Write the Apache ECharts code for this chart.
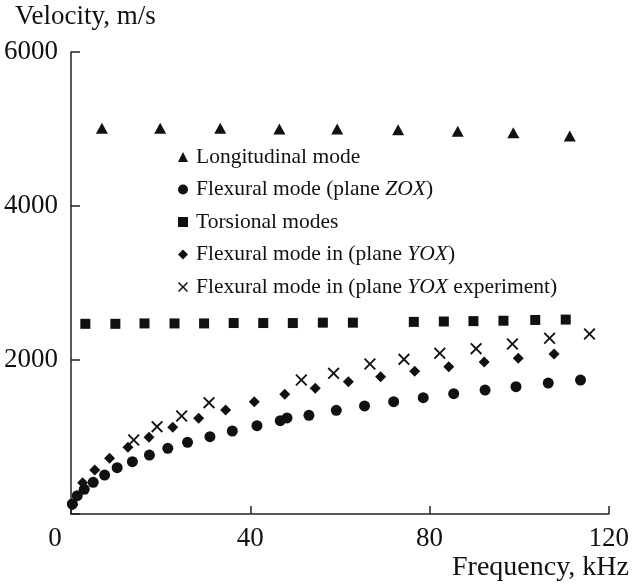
<!DOCTYPE html>
<html>
<head>
<meta charset="utf-8">
<script src="https://cdn.jsdelivr.net/npm/echarts@6/dist/echarts.min.js"></script>
<style>html,body{margin:0;padding:0;background:#fff}#c{width:632px;height:585px}</style>
</head>
<body>
<div id="c"></div>
<script>
// Tick labels
const xTicks = [0, 40, 80, 120];
const yTicks = [2000, 4000, 6000];

// Longitudinal mode (triangles)
const longFreq = [6.9, 19.9, 33.3, 46.5, 59.4, 73.0, 86.3, 98.7, 111.3];
const longVel  = [5010, 5010, 5010, 5000, 5000, 4990, 4970, 4950, 4910];

// Flexural mode (plane ZOX) (circles)
const flexZFreq = [0.3, 1.4, 2.95, 4.95, 7.5, 10.3, 13.7, 17.5, 21.6, 26.0, 31.0, 36.0, 41.5, 46.7, 48.2, 53.1, 59.2, 65.5, 72.0, 78.6, 85.4, 92.4, 99.3, 106.5, 113.7];
const flexZVel  = [130, 238, 320, 411, 506, 602, 680, 766, 853, 931, 1004, 1078, 1147, 1212, 1247, 1282, 1347, 1403, 1459, 1511, 1563, 1610, 1654, 1701, 1740];

// Torsional modes (squares)
const torsFreq = [3.2, 9.9, 16.4, 23.1, 29.7, 36.3, 42.9, 49.5, 56.2, 62.9, 76.5, 83.2, 89.8, 96.5, 103.6, 110.4];
const torsVel  = [2470, 2470, 2475, 2475, 2475, 2480, 2480, 2480, 2485, 2485, 2495, 2500, 2505, 2510, 2520, 2525];

// Flexural mode in (plane YOX) (diamonds)
const flexYFreq = [0.4, 2.6, 5.3, 8.6, 12.7, 17.4, 22.7, 28.5, 34.5, 40.9, 47.7, 54.5, 61.9, 69.1, 76.7, 84.3, 92.2, 99.8, 107.8];
const flexYVel  = [120, 407, 571, 723, 866, 996, 1126, 1243, 1351, 1459, 1554, 1632, 1718, 1783, 1853, 1913, 1974, 2022, 2078];

// Flexural mode in (plane YOX experiment) (crosses)
const expFreq = [14.0, 19.2, 24.7, 30.8, 51.4, 58.6, 66.7, 74.3, 82.3, 90.4, 98.5, 106.8, 115.7];
const expVel  = [961, 1134, 1273, 1446, 1740, 1827, 1948, 2009, 2087, 2147, 2208, 2282, 2338];

const names = [
  'Longitudinal mode',
  'Flexural mode (plane ZOX)',
  'Torsional modes',
  'Flexural mode in (plane YOX)',
  'Flexural mode in (plane YOX experiment)'
];

const FONT = '"Liberation Serif", "Times New Roman", serif';
const INK = '#111';
const crossPath = 'path://M0,1.1 L1.1,0 L5,3.9 L8.9,0 L10,1.1 L6.1,5 L10,8.9 L8.9,10 L5,6.1 L1.1,10 L0,8.9 L3.9,5 Z';

function zip(a, b) { return a.map((v, i) => [v, b[i]]); }

const chart = echarts.init(document.getElementById('c'), null, { renderer: 'canvas' });

function legendFmt(name) {
  const m = name.match(/^(.*plane )(YOX|ZOX)(.*)$/);
  if (m) {
    return '{n|' + m[1] + '}{i|' + m[2] + '}{n|' + m[3] + '}';
  }
  return '{n|' + name + '}';
}

const ms = { color: INK, opacity: 1 };

chart.setOption({
  animation: false,
  backgroundColor: '#fff',
  title: [
    { text: 'Velocity, m/s', left: 10, top: -2,
      textStyle: { fontFamily: FONT, fontSize: 27, fontWeight: 'normal', color: INK } },
    { text: 'Frequency, kHz', right: -2, top: 549,
      textStyle: { fontFamily: FONT, fontSize: 28, fontWeight: 'normal', color: INK } }
  ],
  grid: { left: 71, right: 20, top: 52, bottom: 71, containLabel: false },
  legend: {
    orient: 'vertical',
    left: 173,
    top: 141,
    itemWidth: 10,
    itemHeight: 10,
    itemGap: 10.5,
    data: names,
    formatter: legendFmt,
    textStyle: {
      fontFamily: FONT, fontSize: 21.5, color: INK,
      rich: {
        n: { fontFamily: FONT, fontSize: 21.5, color: INK, lineHeight: 22 },
        i: { fontFamily: FONT, fontSize: 21.5, color: INK, fontStyle: 'italic', lineHeight: 22 }
      },
      padding: [0, 0, 0, 3]
    }
  },
  xAxis: {
    type: 'value', min: 0, max: 120, interval: 40,
    axisLine: { show: true, lineStyle: { color: '#222', width: 1.5 } },
    axisTick: { show: true, inside: true, length: 8, lineStyle: { color: '#222', width: 1.5 } },
    splitLine: { show: false },
    axisLabel: {
      margin: 11, fontFamily: FONT, fontSize: 27, color: INK,
      formatter: function (v) { return v === xTicks[0] ? '{z|' + v + '}' : String(v); },
      rich: { z: { fontFamily: FONT, fontSize: 27, color: INK, padding: [0, 32, 0, 0] } }
    }
  },
  yAxis: {
    type: 'value', min: 0, max: 6000, interval: 2000,
    axisLine: { show: true, lineStyle: { color: '#222', width: 1.5 } },
    axisTick: { show: true, inside: true, length: 9, lineStyle: { color: '#222', width: 1.5 } },
    splitLine: { show: false },
    axisLabel: {
      margin: 13, fontFamily: FONT, fontSize: 27, color: INK,
      formatter: function (v) { return yTicks.indexOf(v) >= 0 ? String(v) : ''; }
    }
  },
  series: [
    { name: names[0], type: 'scatter', symbol: 'triangle', symbolSize: [12, 11],
      itemStyle: ms, data: zip(longFreq, longVel) },
    { name: names[1], type: 'scatter', symbol: 'circle', symbolSize: 11,
      itemStyle: ms, data: zip(flexZFreq, flexZVel) },
    { name: names[2], type: 'scatter', symbol: 'rect', symbolSize: 10,
      itemStyle: ms, data: zip(torsFreq, torsVel) },
    { name: names[3], type: 'scatter', symbol: 'diamond', symbolSize: 11,
      itemStyle: ms, data: zip(flexYFreq, flexYVel) },
    { name: names[4], type: 'scatter', symbol: crossPath, symbolSize: 12,
      itemStyle: ms, data: zip(expFreq, expVel) }
  ]
});
</script>
</body>
</html>
